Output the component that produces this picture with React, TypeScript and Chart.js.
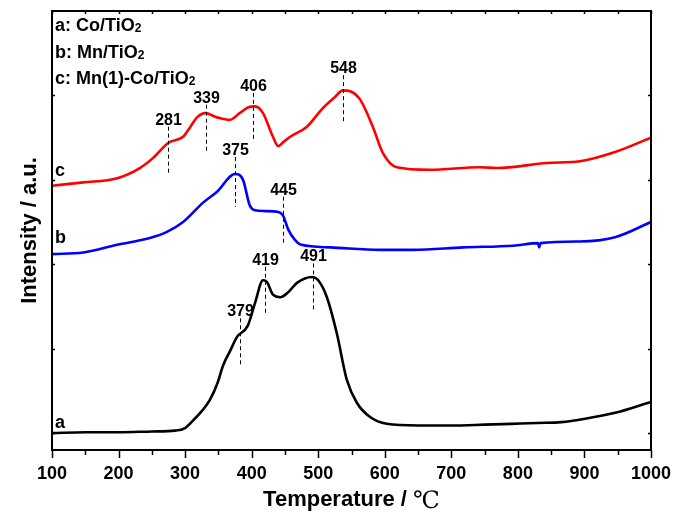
import React, { useEffect, useRef } from "react";
import { Chart, registerables } from "chart.js";

Chart.register(...registerables);

// ---- Data (temperature in °C, intensity in a.u.) ----
const tempA = [100, 150, 200, 250, 285, 300, 312, 325, 337, 349, 357, 368, 378, 394, 405, 417, 423, 432, 443, 455, 468, 491, 500, 513, 528, 543, 558, 578, 603, 650, 700, 750, 790, 830, 865, 901, 946, 1000];
const intA = [0, 0.01, 0.01, 0.02, 0.03, 0.06, 0.15, 0.26, 0.39, 0.6, 0.8, 0.98, 1.14, 1.27, 1.54, 1.81, 1.79, 1.64, 1.61, 1.67, 1.78, 1.85, 1.81, 1.61, 1.18, 0.63, 0.36, 0.19, 0.11, 0.09, 0.09, 0.1, 0.11, 0.12, 0.13, 0.17, 0.24, 0.37];

const tempB = [100, 147, 198, 247, 272, 297, 327, 348, 375, 387, 397, 405, 420, 440, 447, 455, 465, 475, 518, 593, 643, 718, 793, 830, 832, 834, 893, 946, 1000];
const intB = [2.12, 2.14, 2.23, 2.31, 2.38, 2.5, 2.73, 2.86, 3.07, 3.0, 2.7, 2.64, 2.63, 2.62, 2.58, 2.41, 2.29, 2.23, 2.2, 2.17, 2.17, 2.2, 2.22, 2.25, 2.2, 2.25, 2.27, 2.32, 2.5];

const tempC = [100, 147, 198, 232, 252, 275, 297, 308, 318, 330, 348, 367, 382, 395, 405, 417, 432, 440, 448, 458, 483, 507, 525, 537, 548, 563, 582, 597, 618, 668, 743, 768, 844, 893, 946, 1000];
const intC = [2.93, 2.97, 3.02, 3.14, 3.26, 3.44, 3.51, 3.63, 3.74, 3.79, 3.74, 3.71, 3.79, 3.86, 3.87, 3.79, 3.51, 3.4, 3.45, 3.51, 3.63, 3.85, 3.98, 4.06, 4.05, 3.95, 3.63, 3.32, 3.15, 3.12, 3.15, 3.14, 3.2, 3.22, 3.33, 3.5];

const seriesNames = ["a: Co/TiO", "b: Mn/TiO", "c: Mn(1)-Co/TiO"];
const seriesSubscript = ["2", "2", "2"];
const curveTags = ["a", "b", "c"];
const curveTagY = [0.06, 2.25, 3.05];

const peakLabels = ["281", "339", "406", "548", "375", "445", "379", "419", "491"];
const peakLineX = [274, 331, 402, 537, 375, 447, 382, 420, 492];
const peakLineTop = [3.63, 3.89, 4.03, 4.24, 3.27, 2.8, 1.36, 1.97, 2.01];
const peakLineBottom = [3.06, 3.32, 3.47, 3.68, 2.68, 2.23, 0.78, 1.4, 1.43];

const xTicks = [100, 200, 300, 400, 500, 600, 700, 800, 900, 1000];
const yTicks = [0, 1, 2, 3, 4];
const xTitle = "Temperature / ";
const xTitleUnit = "℃";
const yTitle = "Intensity / a.u.";

const FONT = "'Liberation Sans', Arial, sans-serif";

const overlayPlugin = {
  id: "overlay",
  afterDraw(chart: any) {
    const { ctx, chartArea: ca, scales } = chart;
    const xs = scales.x;
    const ys = scales.y;
    ctx.save();
    ctx.strokeStyle = "#000";
    ctx.fillStyle = "#000";
    // frame
    ctx.lineWidth = 2;
    ctx.strokeRect(ca.left, ca.top, ca.right - ca.left, ca.bottom - ca.top);
    // x ticks: bottom outward, top inward
    ctx.lineWidth = 1.5;
    for (let t = xTicks[0]; t <= xTicks[xTicks.length - 1]; t += 50) {
      const px = Math.round(xs.getPixelForValue(t)) + 0.5;
      const major = t % 100 === 0;
      ctx.beginPath();
      ctx.moveTo(px, ca.bottom);
      ctx.lineTo(px, ca.bottom + (major ? 8 : 5));
      ctx.moveTo(px, ca.top);
      ctx.lineTo(px, ca.top + 3);
      ctx.stroke();
    }
    // y ticks inward on both sides
    for (const v of yTicks) {
      const py = Math.round(ys.getPixelForValue(v)) + 0.5;
      ctx.beginPath();
      ctx.moveTo(ca.left, py);
      ctx.lineTo(ca.left + 3, py);
      ctx.moveTo(ca.right, py);
      ctx.lineTo(ca.right - 3, py);
      ctx.stroke();
    }
    // peak markers
    ctx.lineWidth = 1;
    ctx.setLineDash([4, 3]);
    ctx.font = `bold 16px ${FONT}`;
    ctx.textAlign = "center";
    ctx.textBaseline = "alphabetic";
    peakLabels.forEach((lab, i) => {
      const px = Math.round(xs.getPixelForValue(peakLineX[i])) + 0.5;
      const y0 = ys.getPixelForValue(peakLineTop[i]);
      const y1 = ys.getPixelForValue(peakLineBottom[i]);
      ctx.beginPath();
      ctx.moveTo(px, y0);
      ctx.lineTo(px, y1);
      ctx.stroke();
      ctx.fillText(lab, px, y0 - 2);
    });
    ctx.setLineDash([]);
    // legend text
    ctx.textAlign = "left";
    seriesNames.forEach((name, i) => {
      const y = ca.top + 20 + i * 26.5;
      ctx.font = `bold 18px ${FONT}`;
      ctx.fillText(name, ca.left + 3, y);
      const w = ctx.measureText(name).width;
      ctx.font = `bold 12px ${FONT}`;
      ctx.fillText(seriesSubscript[i], ca.left + 3 + w, y + 1);
    });
    // curve tags
    ctx.font = `bold 18px ${FONT}`;
    curveTags.forEach((tag, i) => {
      ctx.fillText(tag, ca.left + 3, ys.getPixelForValue(curveTagY[i]));
    });
    // x title
    ctx.font = `bold 22px ${FONT}`;
    const w1 = ctx.measureText(xTitle).width;
    ctx.font = `24px 'DejaVu Serif', serif`;
    const w2 = ctx.measureText(xTitleUnit).width;
    const cx = (ca.left + ca.right) / 2;
    const startX = cx - (w1 + w2) / 2;
    ctx.font = `bold 22px ${FONT}`;
    ctx.fillText(xTitle, startX, 506);
    ctx.font = `24px 'DejaVu Serif', serif`;
    ctx.fillText(xTitleUnit, startX + w1, 508);
    // y title
    ctx.save();
    ctx.translate(30, (ca.top + ca.bottom) / 2);
    ctx.rotate(-Math.PI / 2);
    ctx.textAlign = "center";
    ctx.textBaseline = "middle";
    ctx.font = `bold 22px ${FONT}`;
    ctx.fillText(yTitle, 0, 0);
    ctx.restore();
    ctx.restore();
  },
};

function toPoints(xs: number[], ys: number[]) {
  return xs.map((x, i) => ({ x, y: ys[i] }));
}

export default function App() {
  const ref = useRef<HTMLCanvasElement | null>(null);
  useEffect(() => {
    if (!ref.current) return;
    const chart = new Chart(ref.current, {
      type: "line",
      data: {
        datasets: [
          { label: "a", data: toPoints(tempA, intA), borderColor: "#000000", borderWidth: 2.6, pointRadius: 0, cubicInterpolationMode: "monotone" },
          { label: "b", data: toPoints(tempB, intB), borderColor: "#0000ff", borderWidth: 2.6, pointRadius: 0, cubicInterpolationMode: "monotone" },
          { label: "c", data: toPoints(tempC, intC), borderColor: "#ff0000", borderWidth: 2.6, pointRadius: 0, cubicInterpolationMode: "monotone" },
        ],
      },
      options: {
        animation: false,
        responsive: true,
        maintainAspectRatio: false,
        layout: { padding: { top: 11, right: 37, left: 0, bottom: 0 } },
        plugins: { legend: { display: false }, tooltip: { enabled: false } },
        scales: {
          x: {
            type: "linear",
            min: 100,
            max: 1000,
            grid: { display: false, drawTicks: false },
            border: { display: false },
            ticks: {
              stepSize: 100,
              padding: 13,
              color: "#000",
              maxRotation: 0,
              font: { family: FONT, size: 18, weight: "bold" },
              callback: (v: any) => String(v),
            },
            afterFit: (s: any) => {
              s.height = 66;
            },
          },
          y: {
            min: -0.2,
            max: 5,
            grid: { display: false, drawTicks: false },
            border: { display: false },
            ticks: { display: false },
            afterFit: (s: any) => {
              s.width = 52;
            },
          },
        },
      },
      plugins: [overlayPlugin],
    } as any);
    return () => chart.destroy();
  }, []);
  return (
    <div style={{ position: "fixed", left: 0, top: 0, width: 688, height: 516, background: "#fff" }}>
      <canvas ref={ref} />
    </div>
  );
}
